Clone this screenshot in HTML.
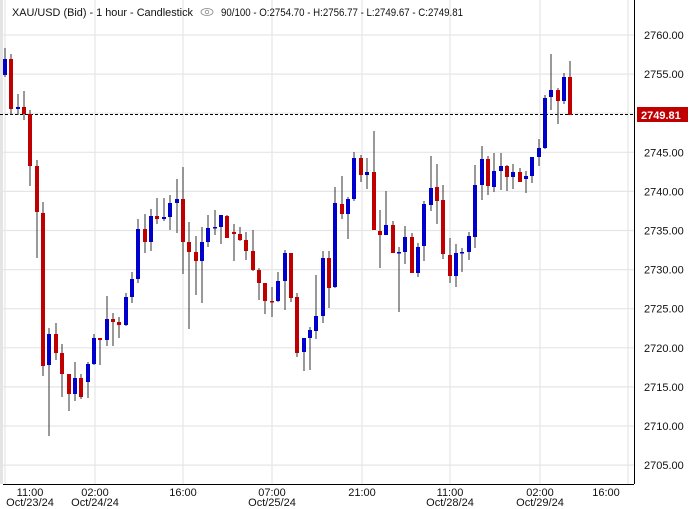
<!DOCTYPE html>
<html><head><meta charset="utf-8"><style>
body{margin:0;background:#fff;width:691px;height:509px;overflow:hidden;font-family:"Liberation Sans",sans-serif}
svg{display:block}
text{font-family:"Liberation Sans",sans-serif;font-size:11px;fill:#111}
</style></head><body>
<svg id="s" width="691" height="509" xmlns="http://www.w3.org/2000/svg">
<rect x="0" y="0" width="691" height="509" fill="#fff"/>
<rect x="0" y="0" width="3" height="484" fill="#e4e4e4"/>
<g id="grid" stroke="#e6e6e6" stroke-width="1.2"></g>
<line x1="0" y1="114.5" x2="634" y2="114.5" stroke="#000" stroke-width="1" stroke-dasharray="3,2"/>
<g id="c"></g>
<line x1="634.5" y1="0" x2="634.5" y2="484" stroke="#000" stroke-width="1"/>
<line x1="3" y1="484.5" x2="634" y2="484.5" stroke="#000" stroke-width="1"/>
<text x="12" y="16" textLength="181" lengthAdjust="spacingAndGlyphs">XAU/USD (Bid) - 1 hour - Candlestick</text>
<g transform="translate(207,12)" fill="none" stroke="#888" stroke-width="0.8"><ellipse cx="0" cy="0" rx="6" ry="3.5"/><circle cx="0" cy="0" r="1.8"/></g>
<text x="221" y="16" textLength="242" lengthAdjust="spacingAndGlyphs">90/100 - O:2754.70 - H:2756.77 - L:2749.67 - C:2749.81</text>
<g id="yl"></g>
<rect x="637" y="107" width="51" height="15" fill="#c00000"/>
<text x="641" y="119" style="fill:#fff;font-weight:bold">2749.81</text>
<g text-anchor="middle">
<text x="30" y="496">11:00</text><text x="30" y="506">Oct/23/24</text>
<text x="95" y="496">02:00</text><text x="95" y="506">Oct/24/24</text>
<text x="183" y="496">16:00</text>
<text x="272" y="496">07:00</text><text x="272" y="506">Oct/25/24</text>
<text x="362" y="496">21:00</text>
<text x="450" y="496">11:00</text><text x="450" y="506">Oct/28/24</text>
<text x="540" y="496">02:00</text><text x="540" y="506">Oct/29/24</text>
<text x="606" y="496">16:00</text>
</g>
</svg>
<script>
var NS="http://www.w3.org/2000/svg";
function el(p,t,a){var e=document.createElementNS(NS,t);for(var k in a)e.setAttribute(k,a[k]);p.appendChild(e);return e;}
var g=document.getElementById('grid'),yl=document.getElementById('yl'),c=document.getElementById('c');
[5,95,183,272,362,450,540,628].forEach(function(x){el(g,'line',{x1:x,y1:0,x2:x,y2:484});});
for(var p=2760;p>=2705;p-=5){var y=35+(2760-p)*7.82;el(g,'line',{x1:3,y1:y,x2:634,y2:y});
 if(p!==2750){var t=el(yl,'text',{x:644,y:y+4});t.textContent=p+'.00';}}
var d=[
[5,59,75,48,77,'b'],[11,59,109,54,115,'r'],[18,107,109,94,115,'b'],[24,107,114,91,120,'r'],[30,114,166,110,186,'r'],
[37,166,212,160,258,'r'],[43,213,366,202,376,'r'],[49,334,365,328,436,'b'],[56,334,353,323,360,'r'],[62,353,374,344,397,'r'],
[69,374,394,374,411,'r'],[75,378,394,362,401,'b'],[81,378,397,374,399,'r'],[88,364,382,362,398,'b'],[94,338,364,334,365,'b'],
[100,338,340,338,365,'r'],[107,319,340,296,346,'b'],[113,319,322,313,346,'r'],[119,322,325,317,338,'r'],[126,297,325,293,326,'b'],
[132,279,297,272,303,'b'],[138,229,279,219,283,'b'],[145,229,242,214,253,'r'],[151,216,242,209,251,'b'],[157,216,219,198,224,'r'],
[164,217,219,198,221,'b'],[170,203,217,195,230,'b'],[177,199,203,179,233,'b'],[183,199,242,167,274,'r'],[189,242,252,222,329,'r'],
[196,252,261,236,295,'r'],[202,242,261,227,303,'b'],[208,228,242,215,247,'b'],[215,227,228,210,235,'b'],
[221,215,227,215,244,'b'],[227,216,238,215,238,'r'],[234,232,234,224,261,'r'],[240,234,240,227,241,'r'],[246,240,251,232,260,'r'],
[253,251,270,230,271,'r'],[259,270,283,268,300,'r'],[265,283,301,283,314,'r'],[272,301,302,287,317,'r'],[278,281,301,272,302,'b'],
[285,253,281,250,310,'b'],[291,253,298,253,302,'r'],[297,297,353,293,357,'r'],[304,338,352,338,371,'b'],[310,330,338,327,370,'b'],
[316,316,331,275,339,'b'],[323,258,316,251,323,'b'],[329,258,288,251,308,'r'],[335,203,287,187,288,'b'],[342,204,214,176,219,'r'],
[348,199,214,197,239,'b'],[354,158,199,152,201,'b'],[361,158,175,155,182,'r'],[367,172,175,158,189,'b'],[374,172,230,131,230,'r'],
[380,231,235,210,268,'r'],[386,225,235,191,235,'b'],[393,225,253,221,253,'r'],[399,252,253,247,312,'b'],[405,237,252,226,264,'b'],
[412,237,273,233,273,'r'],[418,247,273,243,277,'b'],[424,204,246,201,261,'b'],[431,188,205,156,211,'b'],[437,187,201,164,224,'r'],
[443,200,254,185,259,'r'],[450,255,276,238,283,'r'],[456,253,276,244,287,'b'],[462,252,253,248,272,'b'],[469,236,252,232,260,'b'],
[475,185,237,165,248,'b'],[482,159,185,146,200,'b'],[488,159,186,156,195,'r'],[494,171,187,153,192,'b'],[501,166,171,153,190,'b'],
[507,166,177,165,191,'r'],[513,172,177,164,189,'b'],[520,172,182,168,182,'r'],[526,176,179,171,193,'b'],[532,157,176,157,183,'b'],
[539,148,157,139,166,'b'],[545,98,148,95,149,'b'],[551,90,97,54,110,'b'],[558,90,101,88,124,'r'],[564,77,101,73,104,'b'],[570,77,115,61,115,'r']];
d.forEach(function(k){var x=k[0];
 el(c,'line',{x1:x,y1:k[3],x2:x,y2:k[4],stroke:'#333',"stroke-width":1});
 var h=Math.max(k[2]-k[1],1.5);
 el(c,'rect',{x:x-2,y:k[1],width:4,height:h,fill:k[5]=='r'?'#c00000':'#0000cc'});});
</script>
</body></html>
